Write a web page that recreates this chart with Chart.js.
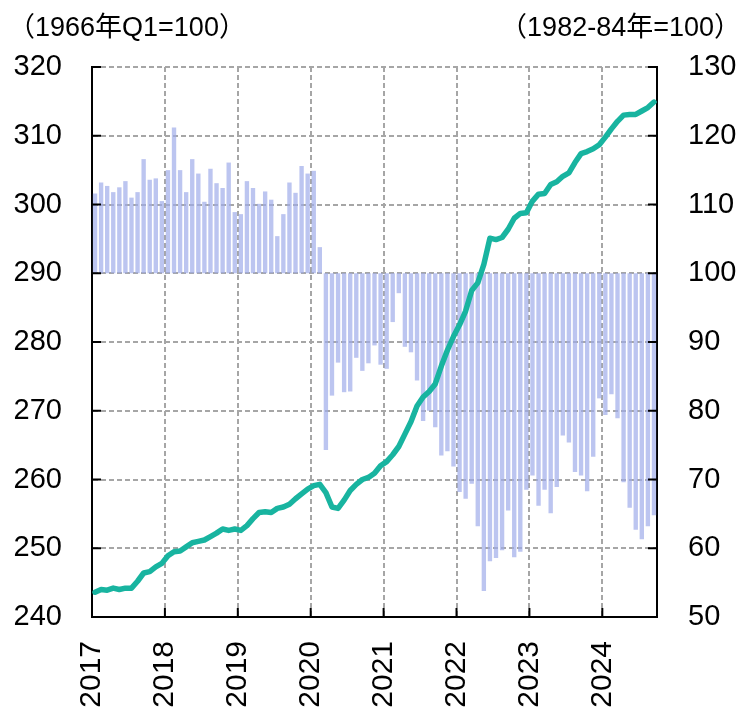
<!DOCTYPE html>
<html>
<head>
<meta charset="utf-8">
<script src="https://cdn.jsdelivr.net/npm/chart.js@4.4.1/dist/chart.umd.min.js"></script>
<style>
  body { margin: 0; background: #fff; }
  #wrap { position: relative; width: 741px; height: 709px; }
  .unit {
    position: absolute; top: 5px;
    font-family: "Liberation Sans", Arial, "Noto Sans CJK JP", sans-serif;
    font-size: 27px; color: #000; white-space: nowrap;
  }
  #unitLeft { left: 8px; }
  #unitRight { right: 0px; }
</style>
</head>
<body>
<div id="wrap">
  <canvas id="chart" width="741" height="709"></canvas>
  <div class="unit" id="unitLeft">（1966年Q1=100）</div>
  <div class="unit" id="unitRight">（1982-84年=100）</div>
</div>
<script>
// year labels for the x axis (one tick every 12 months, starting Jan 2017)
const years = ['2017', '2018', '2019', '2020', '2021', '2022', '2023', '2024'];

// bars, monthly 2017-01 .. 2024-09, drawn from a base of 100 on the right axis
const confidence = [
  111.6, 113.2, 112.7, 111.8, 112.5, 113.4, 111.0, 111.8, 116.6, 113.6, 113.8, 110.5,
  115.0, 121.2, 115.0, 111.8, 116.6, 114.5, 110.4, 115.2, 113.1, 112.4, 116.1, 108.9,
  108.6, 113.4, 112.4, 110.1, 111.9, 110.7, 105.4, 108.6, 113.2, 111.7, 115.6, 114.5,
  114.9, 103.8, 74.3, 82.2, 87.0, 82.7, 82.8, 87.7, 85.8, 86.9, 89.5, 86.7,
  86.1, 92.9, 97.1, 89.3, 88.5, 84.4, 78.5, 80.0, 77.6, 73.5, 74.1, 71.9,
  68.2, 67.2, 69.4, 63.2, 53.8, 58.1, 58.6, 59.7, 65.5, 58.7, 59.5, 68.5,
  70.6, 66.2, 68.5, 65.1, 68.9, 76.4, 75.4, 71.1, 70.6, 68.3, 73.3, 81.8,
  79.4, 82.4, 78.9, 69.6, 65.9, 62.7, 61.3, 63.2, 64.8
];

// line, same months, left axis
const cpi = [
  243.6, 244.0, 243.9, 244.2, 244.0, 244.2, 244.2, 245.2, 246.4, 246.6, 247.3, 247.8,
  248.9, 249.5, 249.6, 250.2, 250.8, 251.0, 251.2, 251.7, 252.2, 252.8, 252.6, 252.8,
  252.6, 253.3, 254.3, 255.2, 255.3, 255.2, 255.8, 256.0, 256.4, 257.2, 257.9, 258.6,
  259.1, 259.3, 258.1, 256.0, 255.8, 257.0, 258.4, 259.3, 260.0, 260.3, 260.9, 262.0,
  262.6, 263.6, 264.8, 266.6, 268.4, 270.7, 272.0, 272.8, 273.9, 276.5, 278.8, 280.8,
  282.5, 284.5, 287.5, 288.6, 291.3, 295.1, 294.9, 295.2, 296.4, 298.0, 298.7, 298.8,
  300.5, 301.5, 301.6, 302.9, 303.3, 304.1, 304.6, 306.1, 307.4, 307.7, 308.1, 308.7,
  309.8, 311.0, 312.1, 313.0, 313.1, 313.1, 313.6, 314.1, 314.9
];

const FAMILY = '"Liberation Sans", Arial, sans-serif';
const GRID_COLOR = '#a6a6a6';

// short black tick marks pointing into the plot area
const innerTicks = {
  id: 'innerTicks',
  afterDraw(chart) {
    const { ctx, chartArea: a, scales } = chart;
    ctx.save();
    ctx.strokeStyle = '#000';
    ctx.lineWidth = 2;
    ctx.beginPath();
    scales.y.ticks.forEach(t => {
      const py = scales.y.getPixelForValue(t.value);
      ctx.moveTo(a.left, py); ctx.lineTo(a.left + 9, py);
    });
    scales.y2.ticks.forEach(t => {
      const py = scales.y2.getPixelForValue(t.value);
      ctx.moveTo(a.right, py); ctx.lineTo(a.right - 9, py);
    });
    scales.x.ticks.forEach(t => {
      const px = scales.x.getPixelForValue(t.value);
      ctx.moveTo(px, a.bottom); ctx.lineTo(px, a.bottom - 9);
    });
    ctx.stroke();
    ctx.restore();
  }
};

const ctx = document.getElementById('chart').getContext('2d');

const chart = new Chart(ctx, {
  type: 'bar',
  data: {
    datasets: [
      {
        type: 'line',
        label: 'CPI',
        yAxisID: 'y',
        data: cpi.map((v, i) => ({ x: i + 0.5, y: v })),
        borderColor: '#18b4a0',
        borderWidth: 5.5,
        borderCapStyle: 'round',
        borderJoinStyle: 'round',
        pointRadius: 0,
        tension: 0,
        order: 0
      },
      {
        type: 'bar',
        label: '消費者信頼感',
        yAxisID: 'y2',
        base: 100,
        data: confidence.map((v, i) => ({ x: i + 0.5, y: v })),
        backgroundColor: 'rgba(160, 172, 234, 0.7)',
        borderWidth: 0,
        barPercentage: 0.72,
        categoryPercentage: 1,
        order: 1
      }
    ]
  },
  options: {
    responsive: false,
    animation: false,
    devicePixelRatio: 1,
    layout: { padding: { top: 67, left: 0, right: 0, bottom: 0 } },
    plugins: {
      legend: { display: false },
      tooltip: { enabled: false }
    },
    scales: {
      x: {
        type: 'linear',
        position: 'bottom',
        offset: false,
        min: 0,
        max: 93,
        afterFit: s => { s.height = 92; },
        grid: { color: GRID_COLOR, lineWidth: 2, drawTicks: false, offset: false },
        border: { display: true, color: '#000', width: 2, dash: [5, 3] },
        ticks: {
          stepSize: 12,
          includeBounds: false,
          autoSkip: false,
          minRotation: 90,
          maxRotation: 90,
          padding: 24,
          color: '#000',
          font: { family: FAMILY, size: 30 },
          callback: v => years[v / 12]
        }
      },
      y: {
        position: 'left',
        min: 240,
        max: 320,
        afterFit: s => { s.width = 92; },
        grid: { color: GRID_COLOR, lineWidth: 2, drawTicks: false },
        border: { display: true, color: '#000', width: 2, dash: [5, 3] },
        ticks: { stepSize: 10, padding: 30, color: '#000', font: { family: FAMILY, size: 29 } }
      },
      y2: {
        position: 'right',
        min: 50,
        max: 130,
        afterFit: s => { s.width = 84; },
        grid: { display: false, drawTicks: false },
        border: { display: true, color: '#000', width: 2 },
        ticks: { stepSize: 10, padding: 31, color: '#000', font: { family: FAMILY, size: 29 } }
      }
    }
  },
  plugins: [innerTicks]
});
</script>
</body>
</html>
